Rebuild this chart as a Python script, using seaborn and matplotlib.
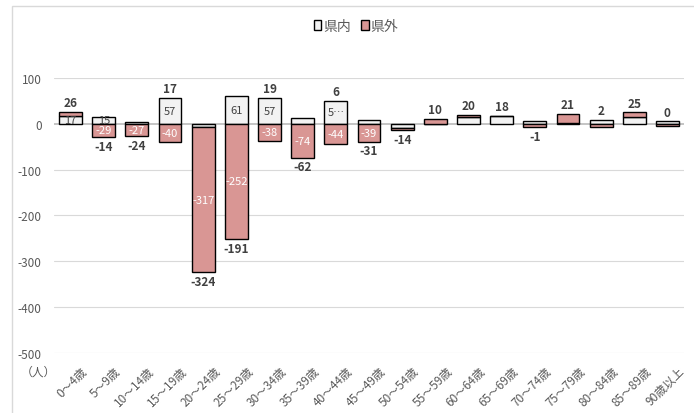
import matplotlib
matplotlib.use("Agg")
import matplotlib.pyplot as plt
import matplotlib.transforms as mtransforms
from matplotlib.patches import Patch, Rectangle
import numpy as np
import pandas as pd
import seaborn as sns

# 年齢階級別の転入超過数（県内・県外）
age_groups = ["0～4歳", "5～9歳", "10～14歳", "15～19歳", "20～24歳", "25～29歳",
              "30～34歳", "35～39歳", "40～44歳", "45～49歳", "50～54歳", "55～59歳",
              "60～64歳", "65～69歳", "70～74歳", "75～79歳", "80～84歳", "85～89歳",
              "90歳以上"]
within_pref = [17, 15, 3, 57, -7, 61, 57, 12, 50, 8, -10, 0, 15, 16, 7, 2, 8, 15, 5]
outside_pref = [9, -29, -27, -40, -317, -252, -38, -74, -44, -39, -4, 10, 5, 2, -8, 19, -6, 10, -5]

# 棒の中に数値を表示する区分
within_labelled = ["0～4歳", "5～9歳", "15～19歳", "25～29歳", "30～34歳", "40～44歳"]
outside_labelled = ["5～9歳", "10～14歳", "15～19歳", "20～24歳", "25～29歳", "30～34歳",
                    "35～39歳", "40～44歳", "45～49歳"]
# 棒の幅に収まらず省略表示になる区分
clipped_labels = ["40～44歳"]

y_ticks = [100, 0, -100, -200, -300, -400, -500]

sns.set_theme(style="white")
plt.rcParams["font.family"] = ["Noto Sans CJK JP", "DejaVu Sans"]

FILL_IN = "#f2f2f2"
FILL_OUT = "#d99694"
TEXT = "#404040"
AXIS_TEXT = "#595959"

df = pd.DataFrame({"age": age_groups, "within": within_pref, "outside": outside_pref})
# 正の値は正の側へ、負の値は負の側へ積み上げる
df["out_bottom"] = np.where(np.sign(df["outside"]) == np.sign(df["within"]), df["within"], 0)
df["total"] = df["within"] + df["outside"]
df["top"] = df[["within", "outside"]].clip(lower=0).sum(axis=1)
df["low"] = df[["within", "outside"]].clip(upper=0).sum(axis=1)

fig = plt.figure(figsize=(6.94, 4.14), dpi=100)
ax = fig.add_axes([54 / 694, 1 - 353.7 / 414, 630 / 694, 274.7 / 414])

bar_kw = dict(width=0.69, edgecolor="black", linewidth=1.0, zorder=3)
sns.barplot(data=df, x="age", y="within", order=age_groups, color=FILL_IN,
            saturation=1, ax=ax, **bar_kw)
sns.barplot(data=df, x="age", y="outside", order=age_groups, color=FILL_OUT,
            saturation=1, bottom=df["out_bottom"].to_numpy(), ax=ax, **bar_kw)

ax.set_ylim(-500, 100)
ax.set_xlim(-0.5, len(age_groups) - 0.5)
ax.set_yticks(y_ticks)
ax.set_yticklabels([str(t) for t in y_ticks])
for t in y_ticks:
    if t != 0:
        ax.axhline(t, color="#d9d9d9", lw=0.8, zorder=0)
ax.axhline(0, color="#bfbfbf", lw=1.3, zorder=1)
for s in ax.spines.values():
    s.set_visible(False)
ax.set_xlabel("")
ax.set_ylabel("")
ax.tick_params(axis="y", length=0, pad=9, labelsize=8.5, labelcolor=AXIS_TEXT)
ax.tick_params(axis="x", length=0, pad=2, labelsize=8.5, labelcolor=AXIS_TEXT)
ax.set_xticks(range(len(age_groups)))
ax.set_xticklabels(age_groups, rotation=45, ha="right", va="center",
                   rotation_mode="anchor")
shift = mtransforms.ScaledTranslation(15 / 100, -13 / 100, fig.dpi_scale_trans)
for lbl in ax.get_xticklabels():
    lbl.set_transform(lbl.get_transform() + shift)

# 区分ごとの数値ラベル
for i, row in df.iterrows():
    if row["age"] in within_labelled:
        txt = str(row["within"])
        if row["age"] in clipped_labels:
            txt = txt[0] + "…"
        ax.text(i, row["within"] / 2, txt, ha="center", va="center",
                fontsize=8, color=TEXT, zorder=5)
    if row["age"] in outside_labelled:
        ax.text(i, row["out_bottom"] + row["outside"] / 2, str(row["outside"]),
                ha="center", va="center", fontsize=8, color="white", zorder=5)
    if row["total"] >= 0:
        ax.annotate(str(row["total"]), (i, row["top"]), xytext=(0, 2),
                    textcoords="offset points", ha="center", va="bottom",
                    fontsize=8.5, fontweight="bold", color=TEXT, zorder=5)
    else:
        ax.annotate(str(row["total"]), (i, row["low"]), xytext=(0, -2),
                    textcoords="offset points", ha="center", va="top",
                    fontsize=8.5, fontweight="bold", color=TEXT, zorder=5)

fig.text(38 / 694, 1 - 372 / 414, "（人）", ha="center", va="center",
         fontsize=8.5, color=AXIS_TEXT)

handles = [Patch(facecolor=FILL_IN, edgecolor="black", linewidth=1.0, label="県内"),
           Patch(facecolor=FILL_OUT, edgecolor="black", linewidth=1.0, label="県外")]
fig.legend(handles=handles, loc="center", bbox_to_anchor=(356 / 694, 1 - 27 / 414),
           ncol=2, frameon=False, fontsize=10, labelcolor=AXIS_TEXT,
           handlelength=0.55, handleheight=0.75, handletextpad=0.15, columnspacing=0.7)

# グラフエリアの枠
fig.patches.append(Rectangle((12 / 694, -0.05), 1.0, 1 - 7 / 414 + 0.05,
                             transform=fig.transFigure, fill=False,
                             edgecolor="#d9d9d9", lw=1.0))

fig.savefig("out.png", dpi=100)
